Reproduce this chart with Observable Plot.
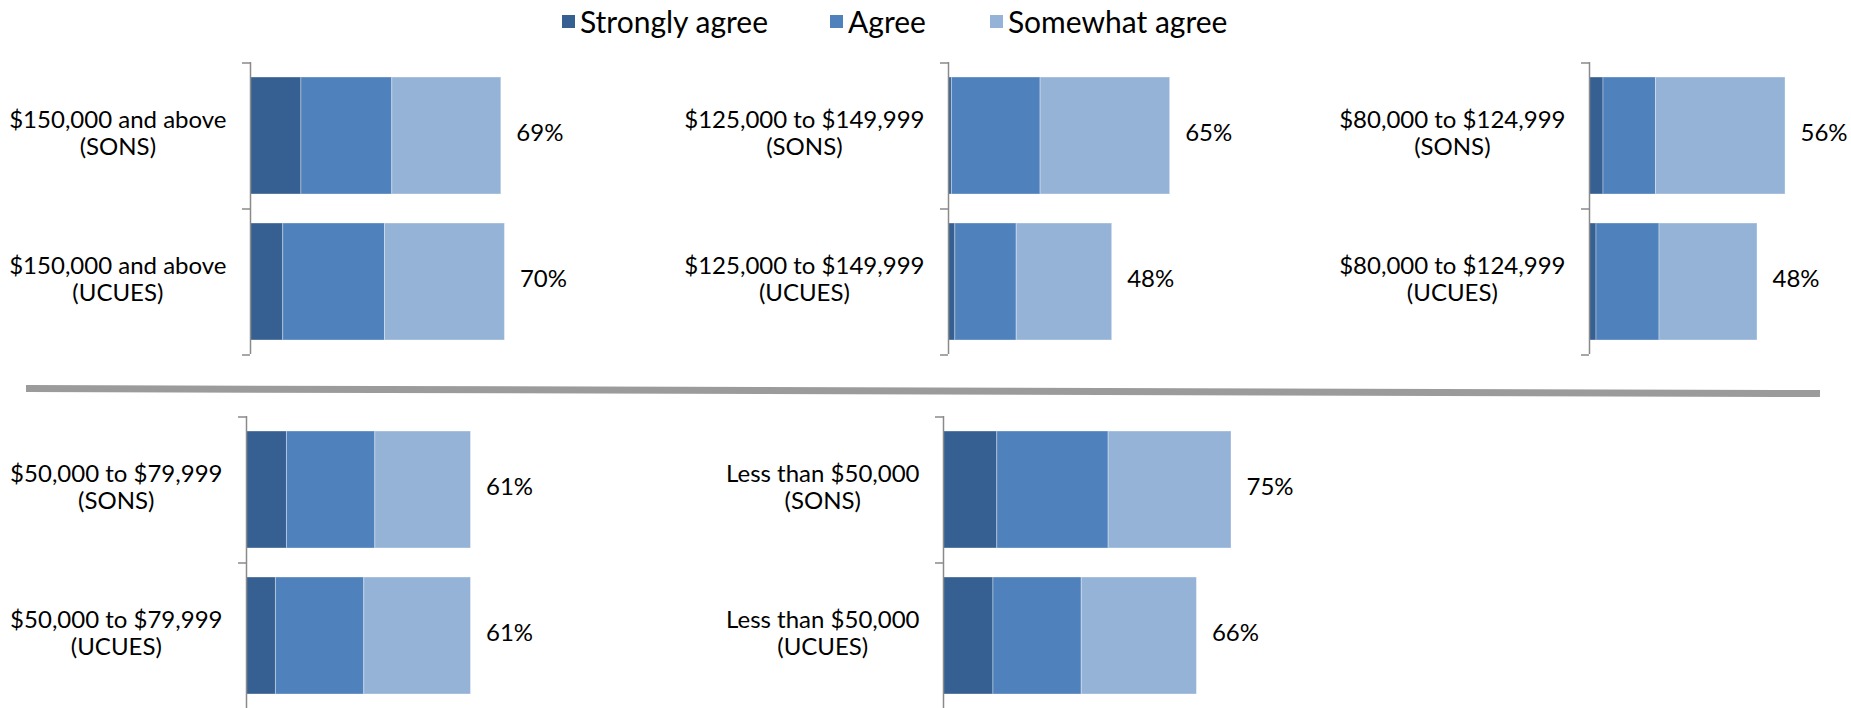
<!DOCTYPE html>
<html>
<head>
<meta charset="utf-8">
<script src="https://cdn.jsdelivr.net/npm/d3@7"></script>
<script src="https://cdn.jsdelivr.net/npm/@observablehq/plot@0.6"></script>
<style>
  html, body { margin: 0; padding: 0; background: #fff; overflow: hidden; }
  #root { position: relative; width: 1851px; height: 708px; overflow: hidden; font-family: Lato, "Open Sans", sans-serif; color: #000; }
  .panel { position: absolute; }
  .panel svg { overflow: visible; }
  #legend { position: absolute; top: 3px; left: 562px; display: flex; align-items: center; font-size: 30px; line-height: 36px; white-space: nowrap; }
  #legend .item { display: flex; align-items: center; }
  #legend .sw { width: 13px; height: 13px; margin-right: 5px; }
  #sep { position: absolute; left: 26px; top: 385px; width: 1794px; height: 7px; background: #9b9b9b; transform-origin: 0 0; transform: rotate(0.16deg); }
</style>
</head>
<body>
<div id="root">
  <div id="legend"></div>
  <div id="sep"></div>
</div>
<script>
// ---- data ----
const incomes = ["$150,000 and above", "$125,000 to $149,999", "$80,000 to $124,999", "$50,000 to $79,999", "Less than $50,000"];
const surveys = ["SONS", "UCUES"];
const levels = ["Strongly agree", "Agree", "Somewhat agree"];
const colors = ["#376092", "#4f81bd", "#95b3d7"];
// values per income group: [SONS, UCUES]
const stronglyAgree = [[14, 9], [1, 2], [4, 2], [11, 8], [14, 13]];
const agree         = [[25, 28], [26, 18], [15, 18], [24, 24], [29, 23]];
const somewhatAgree = [[30, 33], [38, 28], [37, 28], [26, 29], [32, 30]];
const totals        = [[69, 70], [65, 48], [56, 48], [61, 61], [75, 66]];

// ---- layout (per panel: axis x, axis top, pixels per percent) ----
const layout = [
  {axisX: 250, top: 61.5, px: 3.635},
  {axisX: 948, top: 61.5, px: 3.41},
  {axisX: 1589, top: 61.5, px: 3.50},
  {axisX: 245.5, top: 415.5, px: 3.68},
  {axisX: 943, top: 415.5, px: 3.84}
];
const ML = 300, MT = 10, MB = 10, BAND = 292;
const FONT = 24;

const root = document.getElementById("root");

// legend
const legend = document.getElementById("legend");
const gaps = [62, 64, 0];
levels.forEach((lv, k) => {
  const it = document.createElement("div");
  it.className = "item";
  it.style.marginRight = gaps[k] + "px";
  const sw = document.createElement("div");
  sw.className = "sw";
  sw.style.background = colors[k];
  const tx = document.createElement("span");
  tx.textContent = lv;
  it.appendChild(sw); it.appendChild(tx);
  legend.appendChild(it);
});

const ctx = document.createElement("canvas").getContext("2d");
ctx.font = `${FONT}px Lato`;
const measure = (s) => ctx.measureText(s).width;

const series = [stronglyAgree, agree, somewhatAgree];

incomes.forEach((inc, i) => {
  const p = layout[i];
  const rows = [];
  surveys.forEach((s, j) => {
    levels.forEach((lv, k) => rows.push({survey: s, level: lv, value: series[k][i][j]}));
  });
  const tot = surveys.map((s, j) => ({survey: s, total: totals[i][j]}));
  const labs = surveys.map(s => ({survey: s, text: inc + "\n(" + s + ")"}));
  const w = measure(inc);
  const step = BAND / surveys.length;
  const xr = 100 * p.px;
  const chart = Plot.plot({
    width: ML + xr + 20,
    height: MT + BAND + MB,
    marginLeft: ML, marginRight: 20, marginTop: MT, marginBottom: MB,
    x: {domain: [0, 100], range: [ML, ML + xr], axis: null},
    y: {domain: surveys, paddingInner: 0.2, paddingOuter: 0.1, axis: null},
    color: {domain: levels, range: colors},
    style: {background: "transparent", fontFamily: "Lato, sans-serif", fontSize: FONT + "px", color: "#000", overflow: "visible", maxWidth: "none"},
    marks: [
      Plot.barX(rows, Plot.stackX({y: "survey", x: "value", fill: "level", stroke: "#ffffff", strokeOpacity: 0.35, strokeWidth: 1})),
      Plot.ruleX([0], {stroke: "#8a8a8a", strokeWidth: 1.5}),
      Plot.ruleY(surveys, {y: d => d, x1: -8 / p.px, x2: 0, dy: -step / 2, stroke: "#8a8a8a", strokeWidth: 1.5}),
      Plot.ruleY(surveys.slice(-1), {y: d => d, x1: -8 / p.px, x2: 0, dy: step / 2, stroke: "#8a8a8a", strokeWidth: 1.5}),
      Plot.text(tot, {x: "total", y: "survey", text: d => d.total + "%", textAnchor: "start", dx: 15, dy: -3, fontSize: FONT, fill: "#000"}),
      Plot.text(labs, {x: 0, y: "survey", text: "text", textAnchor: "middle", dx: -(24 + w / 2), dy: -3, fontSize: FONT, lineHeight: 1.12, fill: "#000"})
    ]
  });
  const div = document.createElement("div");
  div.className = "panel";
  div.style.left = (p.axisX - ML) + "px";
  div.style.top = (p.top - MT) + "px";
  div.appendChild(chart);
  root.appendChild(div);
});
</script>
</body>
</html>
